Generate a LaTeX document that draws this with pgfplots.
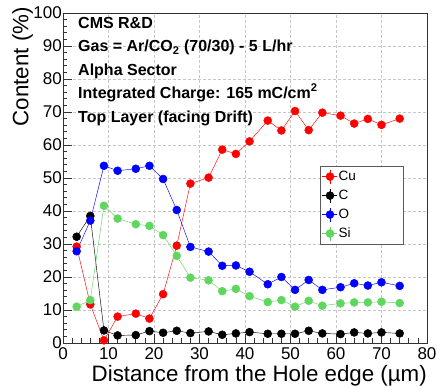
\documentclass[border=0pt]{standalone}
\usepackage{fontspec}
\setmainfont{Liberation Sans}
\usepackage{pgfplots}
\usepackage{pgfplotstable}
\pgfplotsset{compat=1.18}
\definecolor{rootred}{RGB}{255,0,0}
\definecolor{rootgreen}{RGB}{95,215,95}
\definecolor{rootblue}{RGB}{0,0,255}
\pgfplotstableread{
x  Cu   C    O    Si
3  29.2 32.2 27.8 11.0
6  11.7 38.5 37.1 13.0
9  0.8  3.8  53.7 41.6
12 8.0  2.3  52.2 37.7
16 8.9  2.4  52.8 36.0
19 7.4  3.6  53.7 35.5
22 14.8 3.1  49.7 32.7
25 29.5 3.7  40.3 26.4
28 48.3 3.0  29.1 19.8
32 50.1 3.5  27.7 19.0
35 58.6 2.5  23.4 15.7
38 57.3 2.9  23.5 16.4
41 61.1 3.3  21.6 14.2
45 67.4 2.8  17.8 12.4
48 64.4 2.8  20.0 13.0
51 70.3 2.8  16.1 11.0
54 64.5 3.7  19.1 12.8
57 69.8 2.9  16.1 11.3
61 68.9 2.7  16.9 12.0
64 66.5 3.2  18.1 12.3
67 67.9 2.9  17.4 12.3
70 66.1 3.2  18.4 12.5
74 68.0 2.9  17.3 12.1
}\datatable
\pgfplotsset{
  rootleg/.style={legend image code/.code={
    \draw[line width=0.45pt] (-7.5pt,0pt) -- (7.5pt,0pt);
    \draw[line width=0.45pt] (0pt,-7pt) -- (0pt,7pt);
    \fill (0pt,0pt) circle (4pt);}}
}
\begin{document}
\begin{tikzpicture}
\begin{axis}[
  scale only axis, width=364pt, height=330pt,
  xmin=0, xmax=80, ymin=0, ymax=100,
  xtick={0,10,...,80}, ytick={0,10,...,100},
  minor tick num=4,
  tick pos=left, tick align=inside,
  major tick length=9pt, minor tick length=4.5pt,
  axis line style={black!80, line width=0.7pt},
  every tick/.style={black!80, line width=0.6pt},
  grid=major,
  major grid style={gray!45, dash pattern=on 3pt off 2pt, line width=0.5pt},
  /pgf/number format/assume math mode=true,
  tick label style={font=\fontsize{17}{20}\selectfont},
  yticklabel style={anchor=east, inner sep=0pt, xshift=-1pt},
  xticklabel style={anchor=north, inner sep=0pt, yshift=-4pt},
  xlabel={Distance from the Hole edge (µm)},
  ylabel={Content (\%)},
  label style={font=\fontsize{22.3}{25}\selectfont},
  xlabel style={at={(axis cs:80,-11.6)}, anchor=base east, inner sep=0pt},
  ylabel style={at={(axis cs:-7.6,101.8)}, anchor=base east, inner sep=0pt},
  legend style={at={(rel axis cs:0.706,0.537)}, anchor=north west,
    draw=black!65, fill=white, line width=0.6pt,
    font=\fontsize{13.5}{16}\selectfont,
    inner xsep=2pt, inner ysep=3pt, row sep=4pt,
    nodes={text width=62pt, inner sep=1pt, text height=10pt, text depth=3pt}},
  legend cell align=left,
  every axis plot/.append style={line width=0.45pt, mark=*, mark size=4pt},
]
\addplot[color=rootred, rootleg] table[x=x, y=Cu] {\datatable};
\addlegendentry{Cu}
\addplot[color=black, rootleg] table[x=x, y=C] {\datatable};
\addlegendentry{C}
\addplot[color=rootblue, rootleg] table[x=x, y=O] {\datatable};
\addlegendentry{O}
\addplot[color=rootgreen, rootleg] table[x=x, y=Si] {\datatable};
\addlegendentry{Si}
\begin{scope}[every node/.style={anchor=base west, inner sep=0pt, font=\fontsize{16}{19}\selectfont\bfseries}]
\node at (axis cs:3.3,95.45) {CMS R\&D};
\node at (axis cs:3.3,88.2) {Gas = Ar/CO\textsubscript{2} (70/30) - 5 L/hr};
\node at (axis cs:3.3,81.2) {Alpha Sector};
\node at (axis cs:3.3,74.2) {Integrated Charge: 165 mC/cm\textsuperscript{2}};
\node at (axis cs:3.3,66.9) {Top Layer (facing Drift)};
\end{scope}
\end{axis}
\pgfresetboundingbox
\path (-63pt,-44pt) rectangle (374pt,343pt);
\end{tikzpicture}
\end{document}
